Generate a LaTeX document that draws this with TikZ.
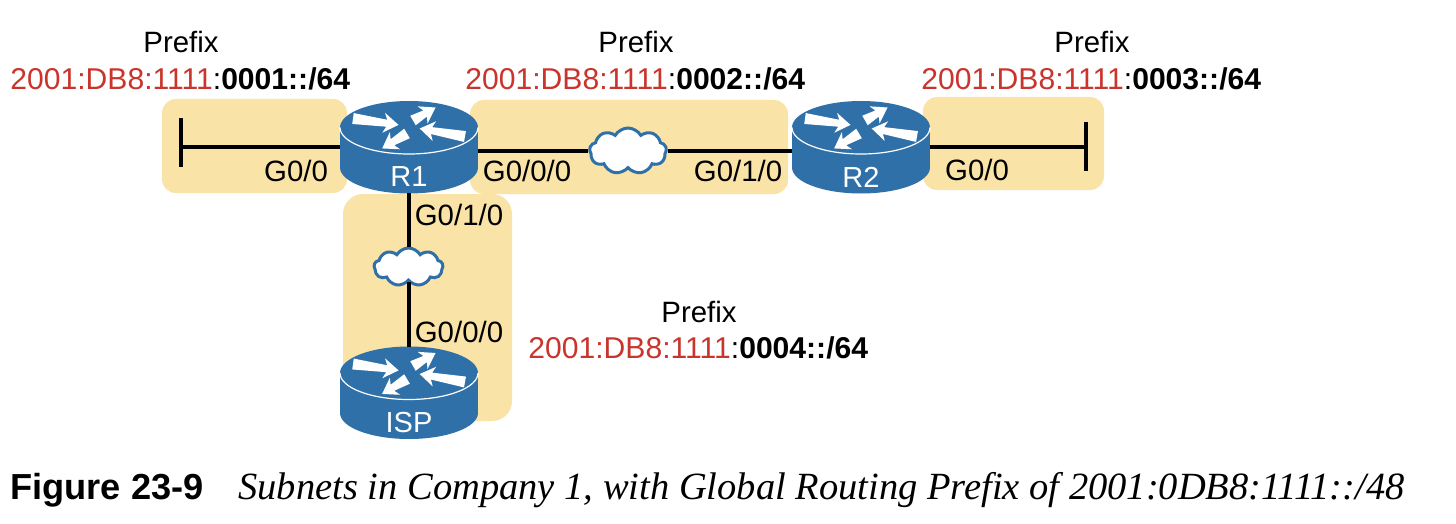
\documentclass[tikz,border=0pt]{standalone}
\usepackage{fontspec}
\setmainfont{Liberation Sans}
\newfontfamily\capfont{Liberation Serif}
\usetikzlibrary{shapes.symbols}
\definecolor{zone}{HTML}{FAE3A6}
\definecolor{rblue}{HTML}{3070A9}
\definecolor{addrred}{HTML}{C9342C}
\newcommand{\rarrow}[4]{% x, y, true angle, length
  \begin{scope}[shift={(#1,#2)},rotate=#3]
    \fill[white] (0,-5.5) -- (#4-12,-3.5) -- (#4-15,-10) -- (#4,0) -- (#4-15,10) -- (#4-12,3.5) -- (0,5.5) -- cycle;
  \end{scope}}
\newcommand{\routericon}[4]{% name, x, top-centre y, label
  \begin{scope}[shift={(#2,#3)}]
    \node[routerbox] (#1) at (0,19.5) {};
    \fill[rblue] (0,40) ellipse [x radius=69,y radius=26];
    \fill[rblue] (-69,0) rectangle (69,40);
    \fill[rblue] (0,0) ellipse [x radius=69,y radius=26.5];
    \draw[white,line width=0.6pt] (69,0) arc[start angle=0,end angle=180,x radius=69,y radius=26.5];
    \rarrow{-56}{-9}{-8}{46}
    \rarrow{4}{-7}{30}{26}
    \rarrow{56}{9}{170}{46}
    \rarrow{-2}{6}{211}{29}
    \node[routerlabel] (#1label) at (0,49.5) {#4};
  \end{scope}}
\tikzset{
  x=0.5pt,y=-0.5pt,
  zonebox/.style={fill=zone,rounded corners=7pt},
  routerbox/.style={minimum width=69pt,minimum height=46pt,inner sep=0pt,outer sep=0pt},
  routerlabel/.style={text=white,font=\fontsize{14.5}{17}\selectfont,inner sep=0pt},
  wire/.style={draw=black,line width=2pt},
  netcloud/.style={cloud,cloud puffs=9,cloud puff arc=120,aspect=1.9,draw=rblue,fill=white,line width=1.5pt,inner sep=0pt},
  txt/.style={font=\fontsize{14.7}{17}\selectfont,inner sep=0pt,anchor=base},
  addr/.style={font=\fontsize{15.05}{17}\selectfont,inner sep=0pt,anchor=base west},
}
\newcommand{\addrtext}[1]{\textcolor{addrred}{2001:DB8:1111}:\textbf{#1::/64}}
\begin{document}
\begin{tikzpicture}
\useasboundingbox (0,0) rectangle (1456,524);
\fill[white] (0,0) rectangle (1456,524);
% zones
\fill[zonebox] (162,99) rectangle (347,193);
\fill[zonebox] (470,100) rectangle (788,194);
\fill[zonebox] (923,97) rectangle (1104,190);
\fill[zone,rounded corners=10pt] (343,194) rectangle (512,421);
% routers
\routericon{R1}{409}{127.5}{R1}
\routericon{R2}{861}{127.5}{R2}
\routericon{ISP}{409}{373}{ISP}
% clouds
\node[netcloud,minimum width=38.5pt,minimum height=23pt] (C1) at (628,151) {};
\node[netcloud,minimum width=34.5pt,minimum height=19pt] (C2) at (408.5,267) {};
% free ends
\coordinate (LT) at (181,118);
\coordinate (LB) at (181,167);
\coordinate (LM) at (181,147);
\coordinate (RT) at (1086,122);
\coordinate (RB) at (1086,171);
\coordinate (RM) at (1086,147);
% wires
\draw[wire] (LT) -- (LB);
\draw[wire] (LM) -- (R1.west |- LM);
\draw[wire] (RT) -- (RB);
\draw[wire] (RM) -- (R2.east |- RM);
\draw[wire] (R1.east |- C1.west) -- (C1.west);
\draw[wire] (C1.east) -- (R2.west |- C1.east);
\draw[wire] (R1.south -| C2.north) -- (C2.north);
\draw[wire] (C2.south) -- (ISP.north -| C2.south);
% interface labels
\node[txt] (i1) at (296,181) {G0/0};
\node[txt] (i2) at (527,182) {G0/0/0};
\node[txt] (i3) at (738,182) {G0/1/0};
\node[txt] (i4) at (977,180) {G0/0};
\node[txt] (i5) at (459,225) {G0/1/0};
\node[txt] (i6) at (459,342) {G0/0/0};
% prefixes
\node[txt] (p1) at (181,53) {Prefix};
\node[addr] (a1) at (10,90) {\addrtext{0001}};
\node[txt] (p2) at (636,53) {Prefix};
\node[addr] (a2) at (465,90) {\addrtext{0002}};
\node[txt] (p3) at (1092,53) {Prefix};
\node[addr] (a3) at (921,90) {\addrtext{0003}};
\node[txt] (p4) at (699,322) {Prefix};
\node[addr] (a4) at (528,358) {\addrtext{0004}};
% caption
\node[inner sep=0pt,anchor=base west,font=\fontsize{18.1}{20}\selectfont\bfseries] (figno) at (10,499) {Figure 23-9};
\node[inner sep=0pt,anchor=base west,font=\capfont\fontsize{19.25}{22}\selectfont\itshape] (figcap) at (238,499) {Subnets in Company 1, with Global Routing Prefix of 2001:0DB8:1111::/48};
\end{tikzpicture}
\end{document}
